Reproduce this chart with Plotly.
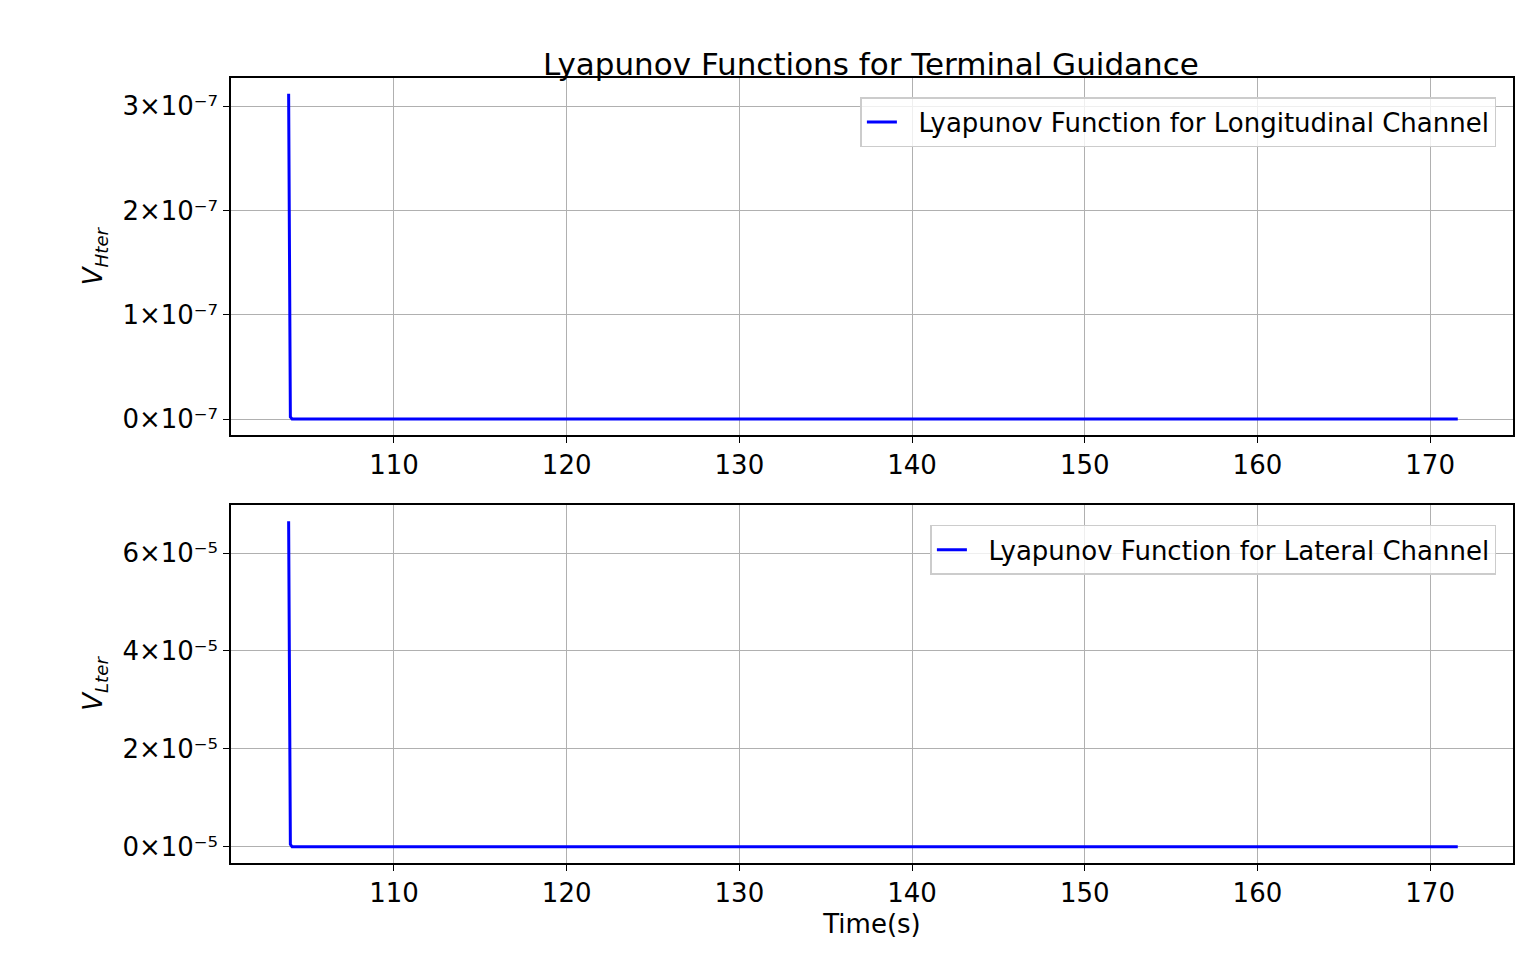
import plotly.graph_objects as go

# data
t = [103.9, 104.0, 104.1, 171.6]
v_hter = [3.12e-7, 0.02e-7, 0.0, 0.0]
v_lter = [6.65e-5, 0.05e-5, 0.0, 0.0]

x_ticks = [110, 120, 130, 140, 150, 160, 170]
h_ticks = [0, 1e-7, 2e-7, 3e-7]
h_labels = ["0×10⁻⁷", "1×10⁻⁷", "2×10⁻⁷", "3×10⁻⁷"]
l_ticks = [0, 2e-5, 4e-5, 6e-5]
l_labels = ["0×10⁻⁵", "2×10⁻⁵", "4×10⁻⁵", "6×10⁻⁵"]

font = dict(family="DejaVu Sans", size=26, color="black")

fig = go.Figure()
fig.add_trace(go.Scatter(x=t, y=v_hter, mode="lines", line=dict(color="blue", width=3),
                         name="  Lyapunov Function for Longitudinal Channel", legend="legend"))
fig.add_trace(go.Scatter(x=t, y=v_lter, mode="lines", line=dict(color="blue", width=3),
                         name="  Lyapunov Function for Lateral Channel", xaxis="x2", yaxis="y2",
                         legend="legend2"))

ax = dict(showline=True, mirror=True, linecolor="black", linewidth=1.5, ticks="outside",
          ticklen=6, tickcolor="black", showgrid=True, gridcolor="#b0b0b0", gridwidth=1.2,
          zeroline=False, tickfont=font, automargin=False)
xr = [100.56, 174.8]

leg = dict(xanchor="right", yanchor="top", bgcolor="rgba(255,255,255,0.8)",
           bordercolor="#cccccc", borderwidth=1.5, font=font)

fig.update_layout(
    width=1525, height=979, showlegend=True,
    margin=dict(l=0, r=0, t=0, b=0, autoexpand=False),
    plot_bgcolor="white", paper_bgcolor="white", font=font,
    xaxis=dict(ax, domain=[0.1462, 0.9869], range=xr, tickvals=x_ticks, anchor="y"),
    yaxis=dict(ax, domain=[0.5638, 0.9285], range=[-0.153e-7, 3.27e-7],
               tickvals=h_ticks, ticktext=h_labels, anchor="x",
               title=dict(text="<i>V</i><sub><i>Hter</i></sub>", font=font, standoff=12)),
    xaxis2=dict(ax, domain=[0.1462, 0.9869], range=xr, tickvals=x_ticks, anchor="y2",
                title=dict(text="Time(s)", font=font, standoff=8)),
    yaxis2=dict(ax, domain=[0.1267, 0.4923], range=[-0.33e-5, 6.98e-5],
                tickvals=l_ticks, ticktext=l_labels, anchor="x2",
                title=dict(text="<i>V</i><sub><i>Lter</i></sub>", font=font, standoff=12)),
    legend=dict(leg, x=0.976, y=0.909),
    legend2=dict(leg, x=0.976, y=0.472),
    annotations=[dict(text="Lyapunov Functions for Terminal Guidance", x=0.566, y=1 - 36 / 979,
                      xref="paper", yref="paper", showarrow=False,
                      font=dict(family="DejaVu Sans", size=31, color="black"))],
)

fig.write_html("out.html")
